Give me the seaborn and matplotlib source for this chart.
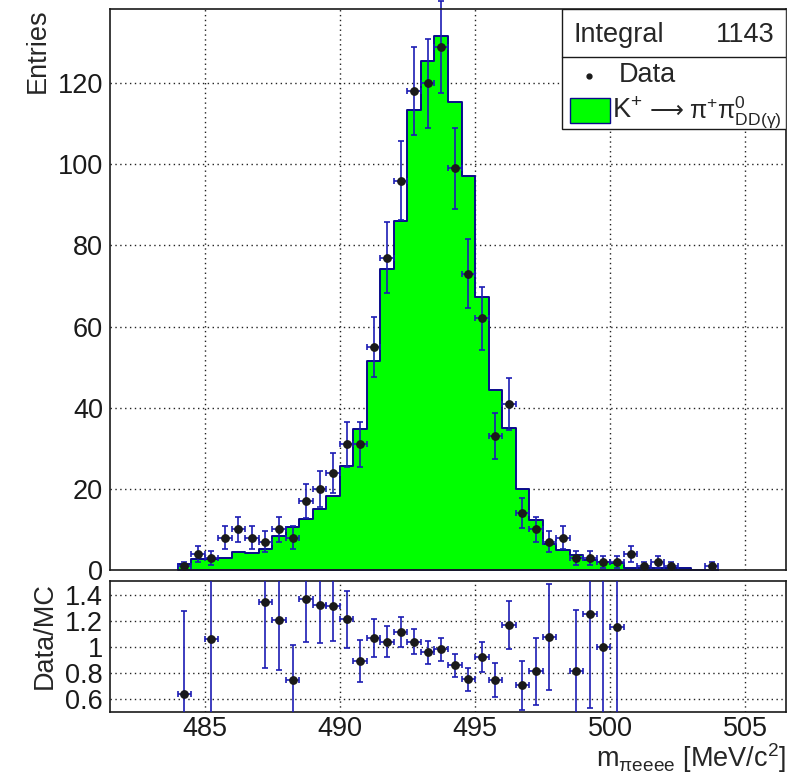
import numpy as np
import pandas as pd
import matplotlib
matplotlib.use("Agg")
import matplotlib.pyplot as plt
import seaborn as sns
from matplotlib.ticker import MultipleLocator, FixedLocator
from matplotlib.patches import Rectangle
from matplotlib.lines import Line2D

# ---------------- data ----------------
bin_lo, bin_hi, bin_w = 484.0, 504.0, 0.5
data_counts = [1, 4, 3, 8, 10, 8, 7, 10, 8, 17,
               20, 24, 31, 31, 55, 77, 96, 118, 120, 129,
               99, 73, 62, 33, 41, 14, 10, 7, 8, 3,
               3, 2, 2, 4, 1, 2, 1, 0, 0, 1]
mc_counts = [1.57, 2.6, 2.83, 2.9, 4.5, 4.2, 5.2, 8.3, 10.7, 12.45,
             15.1, 18.3, 25.6, 34.75, 51.5, 74.2, 86.1, 113.5, 125.4, 131.6,
             115.3, 97.1, 67.2, 44.4, 35.1, 19.9, 12.3, 6.5, 5.0, 3.7,
             2.4, 2.0, 1.74, 0.5, 0.6, 0.6, 0.6, 0.55, 0.0, 0.0]
integral_value = 1143
x_range = (481.5, 506.5)
main_ylim = (0, 138.4)
ratio_ylim = (0.5, 1.505)
main_yticks = [0, 20, 40, 60, 80, 100, 120]
ratio_yticks = [0.6, 0.8, 1.0, 1.2, 1.4]
ratio_yticklabels = ["0.6", "0.8", "1", "1.2", "1.4"]
x_ticks = [485, 490, 495, 500, 505]

edges = np.arange(bin_lo, bin_hi + bin_w / 2, bin_w)
centers = edges[:-1] + bin_w / 2
data = np.array(data_counts, dtype=float)
mc = np.array(mc_counts, dtype=float)
df_mc = pd.DataFrame({"mass": centers, "mc": mc})

# ---------------- style ----------------
sns.set_theme(style="white")
plt.rcParams["font.family"] = ["Liberation Sans", "DejaVu Sans"]
plt.rcParams["mathtext.fontset"] = "custom"
plt.rcParams["mathtext.rm"] = "Liberation Sans"
plt.rcParams["mathtext.it"] = "Liberation Sans:italic"
plt.rcParams["mathtext.bf"] = "Liberation Sans:bold"
plt.rcParams["mathtext.default"] = "rm"
FS = 19.5
GREEN = "#00ff00"
NAVY = "#0a0a8c"
EBLUE = "#1c1cb4"

fig = plt.figure(figsize=(7.9, 7.83), dpi=100)
W, H = 790.0, 783.0
ax = fig.add_axes([110 / W, 1 - 570 / H, 676 / W, 561.5 / H])
ax2 = fig.add_axes([110 / W, 1 - 712 / H, 676 / W, 131 / H])

# ---------------- main panel ----------------
sns.histplot(data=df_mc, x="mass", weights="mc", bins=list(edges), element="step",
             fill=True, color=GREEN, alpha=1, edgecolor=NAVY, linewidth=1.4,
             ax=ax, zorder=2)

mask = data > 0
eb = ax.errorbar(centers[mask], data[mask], yerr=np.sqrt(data[mask]), xerr=bin_w / 2,
                 fmt="o", ms=5.3, mfc="k", mec="k", ecolor=EBLUE, elinewidth=1.2,
                 capsize=2.2, capthick=1.2, zorder=4)
for art in list(eb[1]) + list(eb[2]):
    art.set_clip_on(False)

ax.set_xlim(*x_range)
ax.set_ylim(*main_ylim)
ax.set_xlabel("")
ax.set_ylabel("Entries", fontsize=FS, loc="top")
ax.yaxis.set_label_coords(-0.087, 1.0)

ax.xaxis.set_major_locator(FixedLocator(x_ticks))
ax.xaxis.set_minor_locator(MultipleLocator(1))
ax.yaxis.set_major_locator(FixedLocator(main_yticks))
ax.yaxis.set_minor_locator(MultipleLocator(5))
ax.tick_params(axis="x", which="both", labelbottom=False)
ax.tick_params(which="both", direction="in", colors="k", top=False, right=False,
               labelsize=FS, width=1.0)
ax.tick_params(axis="x", which="major", length=10)
ax.tick_params(axis="x", which="minor", length=5)
ax.tick_params(axis="y", which="major", length=16, pad=5)
ax.tick_params(axis="y", which="minor", length=8.5)
ax.grid(False)
for t in x_ticks:
    ax.axvline(t, color="#222222", ls=(0, (1, 2.5)), lw=1.0, zorder=0.5)
for t in main_yticks[1:]:
    ax.axhline(t, color="#222222", ls=(0, (1, 2.5)), lw=1.0, zorder=0.5)
for s in ax.spines.values():
    s.set_color("k")
    s.set_linewidth(1.2)
    s.set_zorder(5)

# legend box (ROOT-style)
lx0, ly0 = 0.6686, 0.7854
sep_y = 0.9142
ax.add_patch(Rectangle((lx0, ly0), 1 - lx0, 1 - ly0, transform=ax.transAxes,
                       facecolor="white", edgecolor="k", lw=1.0, zorder=6))
ax.add_line(Line2D([lx0, 1.0], [sep_y, sep_y], transform=ax.transAxes, color="k",
                   lw=1.0, zorder=7))
ax.text(0.685, 0.9409, "Integral", transform=ax.transAxes, fontsize=FS,
        ha="left", va="baseline", zorder=7)
ax.text(0.9837, 0.9409, f"{integral_value}", transform=ax.transAxes, fontsize=FS,
        ha="right", va="baseline", zorder=7)
ax.add_line(Line2D([0.709], [0.8798], transform=ax.transAxes, marker="o", ms=3.5,
                   color="k", ls="none", zorder=7))
ax.text(0.752, 0.8696, "Data", transform=ax.transAxes, fontsize=FS,
        ha="left", va="baseline", zorder=7)
ax.add_patch(Rectangle((0.6805, 0.7955), 0.0591, 0.0446, transform=ax.transAxes,
                       facecolor=GREEN, edgecolor=NAVY, lw=1.0, zorder=7))
ax.text(0.742, 0.8044, r"K$^{+}$", transform=ax.transAxes, fontsize=FS,
        ha="left", va="baseline", zorder=7)
ax.text(0.8235, 0.8044, "⟶", transform=ax.transAxes, fontsize=17,
        family="DejaVu Sans", ha="center", va="baseline", zorder=7)
ax.text(0.9941, 0.8044, r"π$^{+}$π$^{0}_{\mathrm{DD(γ)}}$",
        transform=ax.transAxes, fontsize=18, ha="right", va="baseline", zorder=7)

# ---------------- ratio panel ----------------
valid = (data > 0) & (mc > 0)
ratio = np.where(valid, data / np.where(mc > 0, mc, 1), np.nan)
ratio_err = np.where(valid, ratio / np.sqrt(np.where(data > 0, data, 1)), np.nan)
show = valid & (ratio >= ratio_ylim[0]) & (ratio <= ratio_ylim[1])
ax2.errorbar(centers[show], ratio[show], yerr=ratio_err[show], xerr=bin_w / 2,
             fmt="o", ms=5.3, mfc="k", mec="k", ecolor=EBLUE, elinewidth=1.2,
             capsize=2.2, capthick=1.2, zorder=4)
ax2.set_xlim(*x_range)
ax2.set_ylim(*ratio_ylim)
ax2.xaxis.set_major_locator(FixedLocator(x_ticks))
ax2.xaxis.set_minor_locator(MultipleLocator(1))
ax2.yaxis.set_major_locator(FixedLocator(ratio_yticks))
ax2.set_yticklabels(ratio_yticklabels)
ax2.tick_params(which="both", direction="in", colors="k", top=False, right=False,
                labelsize=FS, width=1.0)
ax2.tick_params(axis="x", which="major", length=5, pad=3)
ax2.tick_params(axis="x", which="minor", length=2.5)
ax2.tick_params(axis="y", which="major", length=12, pad=5)
ax2.grid(False)
for t in x_ticks:
    ax2.axvline(t, color="#222222", ls=(0, (1, 2.5)), lw=1.0, zorder=0.5)
for t in ratio_yticks:
    ax2.axhline(t, color="#222222", ls=(0, (1, 2.5)), lw=1.0, zorder=0.5)
for s in ax2.spines.values():
    s.set_color("k")
    s.set_linewidth(1.2)
ax2.set_ylabel("Data/MC", fontsize=FS)
ax2.yaxis.set_label_coords(-0.077, 0.58)
ax2.set_xlabel(r"m$_{\mathrm{πeeee}}$ [MeV/c$^{2}$]", fontsize=FS, loc="right")
ax2.xaxis.set_label_coords(1.0, -0.22)

fig.savefig("out.png", dpi=100)
